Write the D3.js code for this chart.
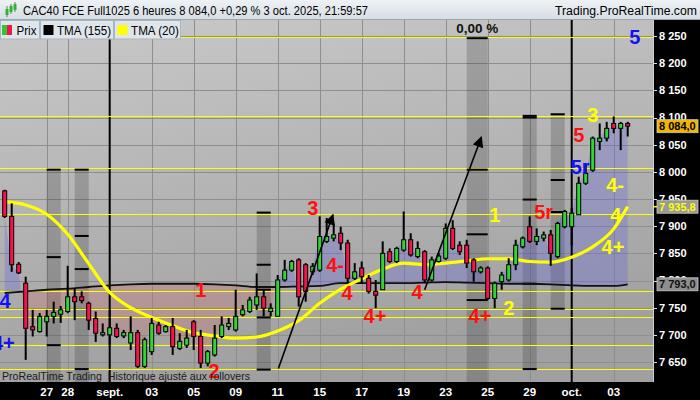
<!DOCTYPE html>
<html><head><meta charset="utf-8">
<script src="https://cdn.jsdelivr.net/npm/d3@7"></script>
<style>
html,body{margin:0;padding:0;background:#000;}
svg{display:block;font-family:"Liberation Sans",Arial,sans-serif;}
</style></head><body>
<svg id="c" width="700" height="400"></svg>
<script>
// ---------- DATA ----------
const title = "CAC40 FCE Full1025 6 heures 8 084,0 +0,29 % 3 oct. 2025, 21:59:57";
const site = "Trading.ProRealTime.com";
const footer = "ProRealTime Trading  Historique ajusté aux rollovers";
const legendNames = ["Prix", "TMA (155)", "TMA (20)"];

const tickLabels = ["27","28","sept.","03","05","09","11","15","17","19","23","25","29","oct.","03"];
const tickBars = [6,9,15,21,27,33,39,45,51,57,63,69,75,81,87];
const monthBars = [15, 81];
const yTickValues = [7650,7700,7750,7800,7850,7900,7950,8000,8050,8100,8150,8200,8250];

const open  = [7965,7918,7830,7795,7715,7706,7724,7734,7738,7743,7770,7770,7758,7730,7700,7700,7712,7698,7685,7704,
               7642,7669,7718,7706,7715,7675,7681,7724,7697,7648,7663,7697,7715,7709,7737,7743,7755,7770,7743,7734,
               7801,7819,7838,7829,7816,7819,7872,7878,7887,7869,7804,7823,7804,7780,7783,7853,7835,7856,7875,7844,
               7853,7801,7835,7841,7896,7865,7865,7838,7816,7823,7767,7798,7801,7829,7862,7899,7872,7878,7884,7844,
               7899,7899,7921,7979,8003,8056,8062,8089,8080,8089];
const high  = [7967,7942,7834,7807,7746,7740,7746,7761,7753,7827,7786,7780,7761,7743,7721,7748,7721,7709,7734,7709,
               7695,7731,7724,7718,7731,7703,7709,7727,7709,7672,7718,7734,7731,7783,7755,7770,7813,7783,7758,7810,
               7838,7838,7841,7832,7832,7918,7915,7905,7899,7875,7832,7835,7810,7801,7872,7859,7862,7927,7887,7872,
               7856,7844,7851,7905,7911,7872,7875,7841,7826,7826,7798,7816,7841,7875,7881,7918,7896,7890,7893,7908,
               7930,7933,7991,8016,8065,8089,8092,8102,8092,8092];
const low   = [7915,7816,7812,7654,7697,7704,7697,7721,7722,7740,7727,7758,7709,7687,7697,7678,7694,7694,7672,7639,
               7639,7663,7700,7704,7663,7672,7676,7672,7639,7642,7660,7694,7709,7706,7734,7740,7746,7734,7734,7734,
               7798,7816,7752,7761,7810,7816,7869,7872,7856,7795,7801,7795,7776,7749,7783,7832,7832,7853,7844,7841,
               7795,7798,7833,7838,7856,7847,7823,7798,7813,7764,7749,7783,7798,7819,7859,7869,7865,7872,7827,7841,
               7896,7865,7921,7976,8000,8040,8056,8071,8040,8065];
const close = [7918,7829,7814,7712,7709,7734,7734,7741,7746,7770,7761,7763,7727,7703,7704,7713,7697,7704,7704,7642,
               7691,7721,7703,7715,7678,7688,7694,7697,7648,7669,7694,7718,7721,7734,7746,7764,7770,7749,7749,7801,
               7819,7835,7770,7780,7826,7881,7881,7884,7869,7804,7816,7807,7780,7773,7850,7835,7859,7875,7847,7859,
               7801,7838,7845,7896,7859,7853,7832,7816,7823,7767,7795,7810,7829,7865,7878,7872,7881,7884,7850,7905,
               7927,7924,7979,7997,8062,8062,8080,8080,8089,8084];

// moving averages read at these bars
const maBars  = [0,3,6,9,12,15,18,21,24,27,30,33,36,39,42,45,48,51,54,57,60,63,66,69,72,75,78,81,84,87,89];
const tma20   = [7945,7939,7922,7885,7831,7778,7750,7732,7717,7704,7698,7694,7696,7707,7726,7758,7784,7803,7821,7832,
                 7829,7832,7836,7840,7840,7835,7834,7843,7862,7895,7936];
const tma155  = [7777,7780,7783,7785,7788,7791,7793,7794,7794,7794,7793,7791,7788,7788,7789,7790,7795,7795,7795,7795,
                 7796,7797,7796,7795,7794,7794,7793,7791,7790,7790,7793];

// horizontal level lines
const levels = [8248,8103,8006.5,7922,7780,7747,7733,7681,7637];

// shaded zones (bar ranges) with their dash levels
const bandStart = [6,10,36,66,74,78];
const bandEnd   = [8,12,38,69,76,80];
const bandTop   = [8004,8004,7925,8246,8103,8106];
const bandBottom= [7613,7613,7636,7613,7637,7748];
const bandDashes= [[8004,7843,7681],[8004,7882,7821,7637],[7925,7829,7783,7732,7636],[8246,8004,7885,7764],
                   [8103,8100,7949,7794,7637],[8106,7985,7926,7748]];
const bandNote = "0,00 %";

// arrows
const arrowFromBar = [39.1, 60.0], arrowFromPrice = [7638, 7783];
const arrowToBar   = [46.9, 68.1], arrowToPrice   = [7921, 8064];

// wave labels
const waveText  = ["5","3","5","5r","4-","4","4+","5r","1","2","4+","4","4+","4","4-","3","1","2","4","4+"];
const waveKind  = ["p","y","r","p","y","y","y","r","y","y","r","r","r","r","r","r","r","r","p","p"];
const waveBar   = [90.0,84.0,82.0,82.2,87.2,87.3,86.9,77.0,70.0,72.0,67.9,58.9,52.9,48.9,47.2,44.0,28.0,29.9,0.05,-0.2];
const wavePrice = [8248,8105,8068,8009,7976,7921,7862,7926,7921,7749,7735,7779,7735,7777,7829,7934,7783,7634,7762,7685];

// right axis value boxes
const boxValue = [8084.0, 7935.8, 7793.0];
const boxKind  = ["price","tma20","tma155"];

// ---------- DRAW ----------
const fr = d3.formatLocale({decimal:",", thousands:" ", grouping:[3], currency:["","€"]});
const fInt = fr.format(","), f1 = fr.format(",.1f");

const PL=0, PR=653, PT=20, PB=382;
const x = d3.scaleLinear().domain([0,89]).range([4.7,627.7]);
const y = d3.scaleLinear().domain([7650,8250]).range([362,36]);
const kindColor = d3.scaleOrdinal().domain(["p","y","r"]).range(["#1010ff","#ffff00","#ff1010"]);

const svg = d3.select("#c");
const defs = svg.append("defs");

const bg = defs.append("linearGradient").attr("id","bg").attr("x1",0).attr("y1",0).attr("x2",0.25).attr("y2",1);
bg.append("stop").attr("offset","0%").attr("stop-color","#c9c9c9");
bg.append("stop").attr("offset","100%").attr("stop-color","#a0a0a0");
const hg = defs.append("linearGradient").attr("id","hg").attr("x1",0).attr("y1",0).attr("x2",0).attr("y2",1);
hg.append("stop").attr("offset","0%").attr("stop-color","#eef2f5");
hg.append("stop").attr("offset","100%").attr("stop-color","#d5dde3");

defs.append("clipPath").attr("id","plotClip").append("rect")
  .attr("x",PL).attr("y",PT).attr("width",PR-PL).attr("height",PB-PT);

const bars = d3.range(open.length);
const ma155At = d3.scaleLinear().domain(maBars).range(tma155);

// clip above / below TMA155
const maLinePts = bars.map(i => [x(i), y(ma155At(i))]);
const abovePts = [[PL, PT], [PL, maLinePts[0][1]], ...maLinePts, [PR, maLinePts[maLinePts.length-1][1]], [PR, PT]];
const belowPts = [[PL, PB], [PL, maLinePts[0][1]], ...maLinePts, [PR, maLinePts[maLinePts.length-1][1]], [PR, PB]];
defs.append("clipPath").attr("id","above").append("path").attr("d", "M"+abovePts.join("L")+"Z");
defs.append("clipPath").attr("id","below").append("path").attr("d", "M"+belowPts.join("L")+"Z");

defs.append("marker").attr("id","ah").attr("markerUnits","userSpaceOnUse")
  .attr("viewBox","0 0 10 10").attr("refX",9).attr("refY",5)
  .attr("markerWidth",12).attr("markerHeight",11).attr("orient","auto")
  .append("path").attr("d","M0,0L10,5L0,10Z").attr("fill","#000");

// backgrounds
svg.append("rect").attr("x",0).attr("y",0).attr("width",700).attr("height",400).attr("fill","#000");
svg.append("rect").attr("x",PL).attr("y",PT).attr("width",PR-PL).attr("height",PB-PT).attr("fill","url(#bg)");

const plot = svg.append("g").attr("clip-path","url(#plotClip)");

// grid
plot.append("g").selectAll("line").data(yTickValues).join("line")
  .attr("x1",PL).attr("x2",PR).attr("y1",d=>Math.round(y(d))+0.5).attr("y2",d=>Math.round(y(d))+0.5)
  .attr("stroke","#8e8e8e").attr("stroke-width",1);
plot.append("g").selectAll("line").data(tickBars.filter(b=>!monthBars.includes(b))).join("line")
  .attr("x1",d=>Math.round(x(d))+0.5).attr("x2",d=>Math.round(x(d))+0.5).attr("y1",PT).attr("y2",PB)
  .attr("stroke","#8e8e8e").attr("stroke-width",1);

// shaded vertical zones
const bandIdx = d3.range(bandStart.length);
plot.append("g").selectAll("rect").data(bandIdx).join("rect")
  .attr("x",i=>x(bandStart[i])).attr("width",i=>x(bandEnd[i])-x(bandStart[i]))
  .attr("y",i=>y(bandTop[i])).attr("height",i=>y(bandBottom[i])-y(bandTop[i]))
  .attr("fill","rgba(0,0,0,0.17)");

// area between close and TMA155
const zone = d3.area().x(i=>x(i)).y0(i=>y(ma155At(i))).y1(i=>y(close[i]));
plot.append("path").datum(bars).attr("d",zone).attr("fill","rgba(95,95,235,0.28)").attr("clip-path","url(#above)");
plot.append("path").datum(bars).attr("d",zone).attr("fill","rgba(215,90,90,0.24)").attr("clip-path","url(#below)");

// month lines
plot.append("g").selectAll("line").data(monthBars).join("line")
  .attr("x1",d=>x(d)).attr("x2",d=>x(d)).attr("y1",PT).attr("y2",PB)
  .attr("stroke","#000").attr("stroke-width",2);

// level lines
plot.append("g").selectAll("line").data(levels).join("line")
  .attr("x1",PL).attr("x2",PR).attr("y1",d=>Math.round(y(d))+0.5).attr("y2",d=>Math.round(y(d))+0.5)
  .attr("stroke","#ffff00").attr("stroke-width",1.1);

// band dashes
bandIdx.forEach(i=>{
  plot.append("g").selectAll("line").data(bandDashes[i]).join("line")
    .attr("x1",x(bandStart[i])).attr("x2",x(bandEnd[i]))
    .attr("y1",d=>y(d)).attr("y2",d=>y(d)).attr("stroke","#000").attr("stroke-width",2);
});

// moving averages
const maIdx = d3.range(maBars.length);
plot.append("path").datum(maIdx)
  .attr("d", d3.line().x(k=>x(maBars[k])).y(k=>y(tma155[k])).curve(d3.curveMonotoneX))
  .attr("fill","none").attr("stroke","#111").attr("stroke-width",1.8);
plot.append("path").datum(maIdx)
  .attr("d", d3.line().x(k=>x(maBars[k])).y(k=>y(tma20[k])).curve(d3.curveMonotoneX))
  .attr("fill","none").attr("stroke","#ffff00").attr("stroke-width",3.2);

// candles
const cg = plot.append("g");
cg.selectAll("rect.w").data(bars).join("rect").attr("class","w")
  .attr("x",i=>x(i)-1).attr("width",2)
  .attr("y",i=>y(high[i])).attr("height",i=>Math.max(1,y(low[i])-y(high[i])))
  .attr("fill","#000");
cg.selectAll("rect.b").data(bars).join("rect").attr("class","b")
  .attr("x",i=>x(i)-2).attr("width",4)
  .attr("y",i=>y(Math.max(open[i],close[i])))
  .attr("height",i=>Math.max(1.5,Math.abs(y(open[i])-y(close[i]))))
  .attr("fill",i=>close[i]>=open[i]?"#33d433":"#f5144c")
  .attr("stroke","#000").attr("stroke-width",1);

// arrows
plot.append("g").selectAll("line").data(d3.range(arrowFromBar.length)).join("line")
  .attr("x1",i=>x(arrowFromBar[i])).attr("y1",i=>y(arrowFromPrice[i]))
  .attr("x2",i=>x(arrowToBar[i])).attr("y2",i=>y(arrowToPrice[i]))
  .attr("stroke","#000").attr("stroke-width",1.6).attr("marker-end","url(#ah)");

// band note
plot.append("text").attr("x",(x(bandStart[3])+x(bandEnd[3]))/2).attr("y",33)
  .attr("text-anchor","middle").attr("font-size",13.5).attr("font-weight","bold").attr("fill","#111")
  .text(bandNote);

// wave labels
plot.append("g").selectAll("text").data(d3.range(waveText.length)).join("text")
  .attr("x",i=>x(waveBar[i])).attr("y",i=>y(wavePrice[i]))
  .attr("dy","0.36em").attr("text-anchor","middle")
  .attr("font-size",20).attr("font-weight","bold")
  .attr("fill",i=>kindColor(waveKind[i]))
  .text(i=>waveText[i]);

// footer
plot.append("text").attr("x",2).attr("y",380).attr("font-size",11).attr("fill","#1a1a1a")
  .attr("textLength",248).attr("lengthAdjust","spacingAndGlyphs")
  .style("white-space","pre").text(footer);

// right axis
svg.append("line").attr("x1",PR+0.5).attr("x2",PR+0.5).attr("y1",PT).attr("y2",PB).attr("stroke","#c8d0d8");
const ya = svg.append("g");
ya.selectAll("line").data(yTickValues).join("line")
  .attr("x1",PR).attr("x2",PR+4).attr("y1",d=>Math.round(y(d))+0.5).attr("y2",d=>Math.round(y(d))+0.5)
  .attr("stroke","#ddd");
ya.selectAll("text").data(yTickValues).join("text")
  .attr("x",PR+6).attr("y",d=>y(d)).attr("dy","0.36em")
  .attr("font-size",11).attr("font-weight","bold").attr("fill","#fff")
  .text(d=>fInt(d));

// value boxes
const boxFill = {price:"#f3b600", tma20:"#9a9a9a", tma155:"#8e8e8e"};
const boxText = {price:"#000", tma20:"#ffff00", tma155:"#111"};
const bxg = svg.append("g").selectAll("g").data(d3.range(boxValue.length)).join("g")
  .attr("transform",i=>`translate(${PR+4},${y(boxValue[i])})`);
bxg.append("rect").attr("x",0).attr("y",-6.5).attr("width",41).attr("height",13)
  .attr("fill",i=>boxFill[boxKind[i]]).attr("stroke","#c8c8c8").attr("stroke-width",0.8);
bxg.append("text").attr("x",2).attr("y",0).attr("dy","0.36em")
  .attr("font-size",11).attr("font-weight","bold").attr("fill",i=>boxText[boxKind[i]])
  .text(i=>f1(boxValue[i]));
svg.append("line").attr("x1",PR).attr("x2",PR+4).attr("y1",y(boxValue[1])).attr("y2",y(boxValue[1]))
  .attr("stroke","#ffff00").attr("stroke-width",1.5);

// x axis
svg.append("g").selectAll("text").data(d3.range(tickBars.length)).join("text")
  .attr("x",i=>x(tickBars[i])).attr("y",396).attr("text-anchor","middle")
  .attr("font-size",11.5).attr("font-weight","bold").attr("fill","#fff")
  .text(i=>tickLabels[i]);

// header
svg.append("rect").attr("x",0).attr("y",0).attr("width",700).attr("height",20).attr("fill","url(#hg)");
svg.append("line").attr("x1",0).attr("x2",700).attr("y1",19.5).attr("y2",19.5).attr("stroke","#9aa6b0");
const ic = svg.append("g");
ic.append("line").attr("x1",7).attr("x2",7).attr("y1",6).attr("y2",17).attr("stroke","#777");
ic.append("rect").attr("x",5.5).attr("y",9).attr("width",3).attr("height",6).attr("fill","#2db52d");
ic.append("line").attr("x1",11).attr("x2",11).attr("y1",4).attr("y2",14).attr("stroke","#777");
ic.append("rect").attr("x",9.5).attr("y",6).attr("width",3).attr("height",6).attr("fill","#2db52d");
ic.append("line").attr("x1",15).attr("x2",15).attr("y1",2).attr("y2",12).attr("stroke","#777");
ic.append("rect").attr("x",13.5).attr("y",4).attr("width",3).attr("height",6).attr("fill","#2db52d");
svg.append("text").attr("x",23).attr("y",14.5).attr("font-size",12.5).attr("fill","#000")
  .attr("textLength",345).attr("lengthAdjust","spacingAndGlyphs").text(title);
svg.append("text").attr("x",555).attr("y",14.5).attr("font-size",12.5).attr("fill","#000")
  .attr("textLength",142).attr("lengthAdjust","spacingAndGlyphs").text(site);

// legend
const legX = [0,40,114], legW = [40,74,67];
const lg = svg.append("g").selectAll("g").data(d3.range(3)).join("g").attr("transform",i=>`translate(${legX[i]},20)`);
lg.append("rect").attr("x",0.5).attr("y",0.5).attr("width",i=>legW[i]-1).attr("height",18.5)
  .attr("fill","#dfe6eb").attr("stroke","#a9b5bf");
lg.append("text").attr("x",i=>i===0?16.5:17).attr("y",14.5).attr("font-size",12.5).attr("fill","#000")
  .attr("textLength",i=>[20,54,48][i]).attr("lengthAdjust","spacingAndGlyphs").text(i=>legendNames[i]);
lg.filter(i=>i===0).append("rect").attr("x",2).attr("y",5).attr("width",5).attr("height",10).attr("fill","#33c433");
lg.filter(i=>i===0).append("rect").attr("x",7).attr("y",5).attr("width",5).attr("height",10).attr("fill","#f0144a");
lg.filter(i=>i>0).append("rect").attr("x",3.5).attr("y",5).attr("width",10).attr("height",10)
  .attr("fill",i=>i===1?"#000":"#ffff00");
</script>
</body></html>
